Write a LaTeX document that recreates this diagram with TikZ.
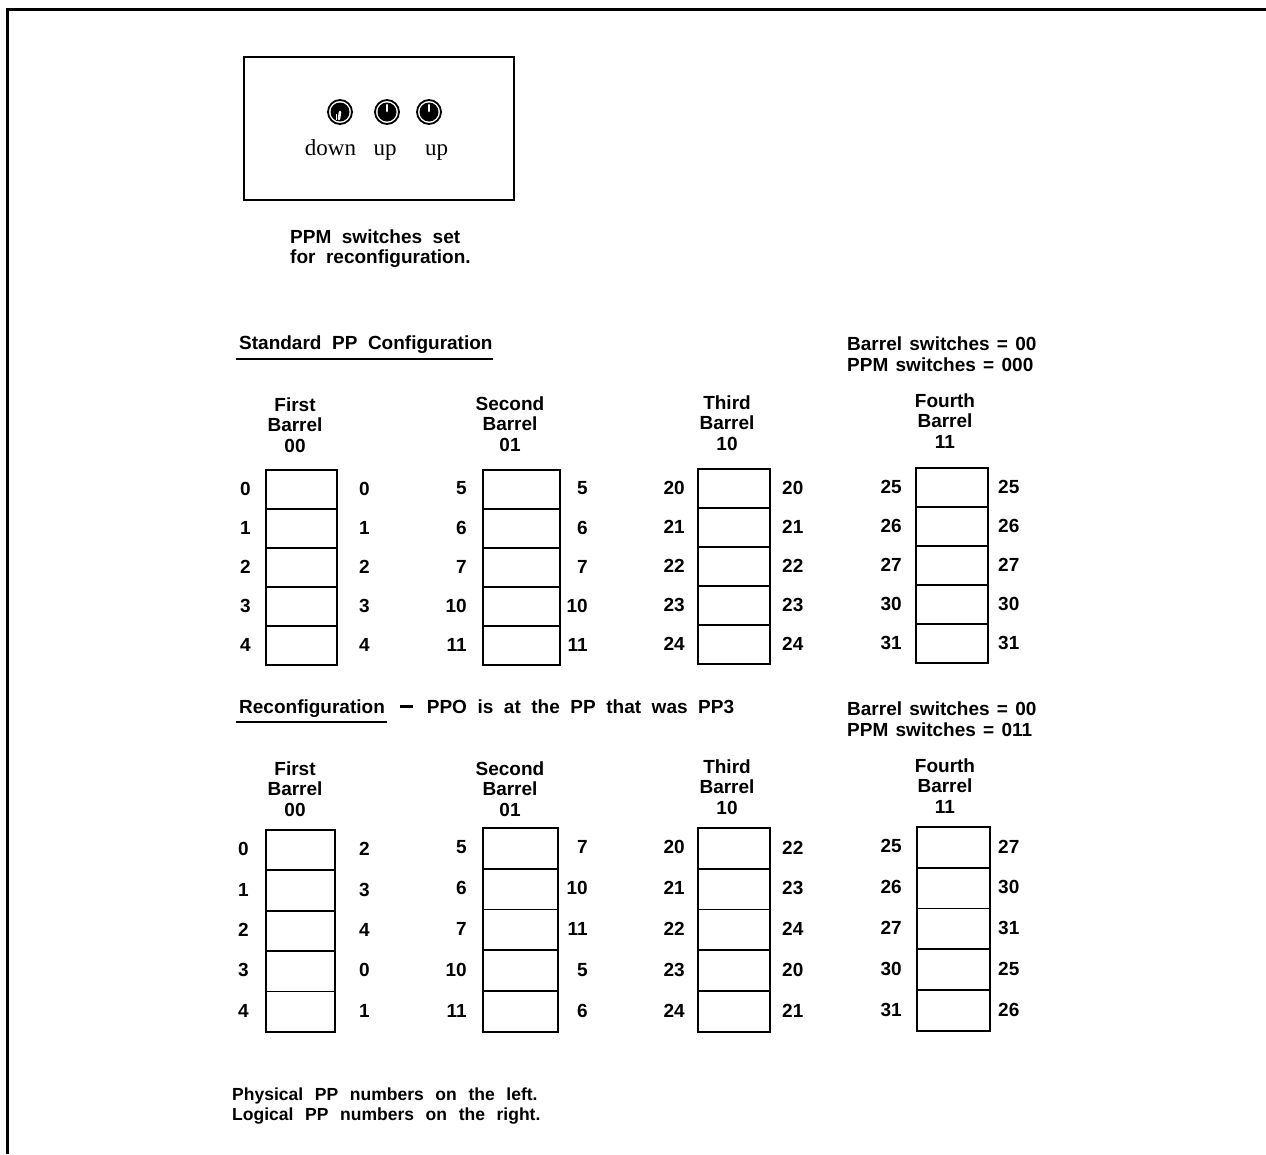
\documentclass[tikz,border=0pt]{standalone}
\usepackage{fontspec}
\setmainfont{Liberation Sans}[WordSpace=2]
\newfontfamily\fnfont{Liberation Sans}[WordSpace=2.4]
\newfontfamily\twfont{Liberation Serif}
\newcommand\wsp{\hspace{7.3pt}}
\begin{document}
\begin{tikzpicture}[x=1pt,y=-1pt,
  txt/.style={font=\fontsize{19}{20.5}\selectfont\bfseries, inner sep=0pt},
  bstxt/.style={txt, anchor=base west},
  fntxt/.style={font=\fontsize{17.5}{20}\selectfont\fnfont\bfseries, inner sep=0pt, anchor=base west},
  hdr/.style={txt, align=center},
  num/.style={txt},
  cell/.style={draw, line width=1.8pt, inner sep=0pt, anchor=north west},
  rule/.style={line width=2.2pt},
  frameline/.style={line width=3pt},
  tw/.style={font=\fontsize{23}{25}\selectfont\twfont, inner sep=0pt, anchor=base},
  swring/.style={circle, draw, line width=1.8pt, minimum size=24pt, inner sep=0pt},
]
\useasboundingbox (0,0) rectangle (1266,1154);
\newcommand\mkbarrel[9]{%
  \foreach \l [count=\i from 0] in {#8} {
    \node[cell, minimum width=\bw pt, minimum height=#4 pt] (#1c\i) at (#2,{#3+\i*#4}) {};
    \node[num, anchor=east] (#1l\i) at (#5,{#3+(\i+0.5)*#4}) {\l};
  }
  \foreach \r [count=\i from 0] in {#9} {
    \node[num, anchor=#7] (#1r\i) at (#6,{#3+(\i+0.5)*#4}) {\r};
  }
}
% frame
\coordinate (fTL) at (7,9);
\coordinate (fTR) at (1266,9);
\coordinate (fBL) at (7,1154);
\draw[frameline] (fTR) -- (fTL) -- (fBL);

% switch panel
\node[draw, line width=1.8pt, minimum width=270pt, minimum height=143pt, anchor=north west, inner sep=0pt] (swbox) at (243,56) {};
\node[swring] (sw1) at (340,112) {};
\node[swring] (sw2) at (387,112) {};
\node[swring] (sw3) at (429,112) {};
\foreach \s in {sw1,sw2,sw3} { \fill (\s.center) circle (9.5pt); }
\draw[white, line width=2.6pt, line cap=round] (sw1.center) -- ++(-1,7);
\draw[white, line width=1pt] (sw1.center) ++(-4,2) -- ++(0,6);
\draw[white, line width=2.6pt, line cap=round] (sw2.center) ++(0,-1) -- ++(0,-6);
\draw[white, line width=2.6pt, line cap=round] (sw3.center) ++(0,-1) -- ++(0,-6);
\node[tw] (down) at (330.5,155) {down};
\node[tw] (up1) at (385,155) {up};
\node[tw] (up2) at (436.5,155) {up};

\node[txt, anchor=base west] (ppm1) at (290,243) {PPM switches set};
\node[txt, anchor=base west] (ppm2) at (290,263) {for reconfiguration.};

% standard configuration
\node[txt, anchor=base west] (std) at (239,349) {Standard PP Configuration};
\draw[rule] (236,359) coordinate (u1a) -- (493,359) coordinate (u1b);
\node[bstxt] (bs1) at (847,350) {Barrel\wsp switches\wsp =\wsp 00};
\node[bstxt] (ps1) at (847,371) {PPM\wsp switches\wsp =\wsp 000};

\node[hdr] (h1) at (295,425) {First\\Barrel\\00};
\node[hdr] (h2) at (510,424) {Second\\Barrel\\01};
\node[hdr] (h3) at (727,423) {Third\\Barrel\\10};
\node[hdr] (h4) at (945,421) {Fourth\\Barrel\\11};

\def\bw{71}
\mkbarrel{ta}{265}{469}{39}{251}{359}{west}{0,1,2,3,4}{0,1,2,3,4}
\def\bw{77}
\mkbarrel{tb}{482}{469}{39}{467}{588}{east}{5,6,7,10,11}{5,6,7,10,11}
\def\bw{72}
\mkbarrel{tc}{697}{468}{39}{685}{782}{west}{20,21,22,23,24}{20,21,22,23,24}
\def\bw{72}
\mkbarrel{td}{915}{467}{39}{902}{998}{west}{25,26,27,30,31}{25,26,27,30,31}

% reconfiguration
\node[txt, anchor=base west] (rec) at (239,713) {Reconfiguration\hspace{15pt}\rule[5.5pt]{13pt}{2.2pt}\hspace{14pt}PPO is at the PP that was PP3};
\draw[rule] (236,722) coordinate (u2a) -- (387,722) coordinate (u2b);
\node[bstxt] (bs2) at (847,715) {Barrel\wsp switches\wsp =\wsp 00};
\node[bstxt] (ps2) at (847,736) {PPM\wsp switches\wsp =\wsp 011};

\node[hdr] (g1) at (295,789) {First\\Barrel\\00};
\node[hdr] (g2) at (510,789) {Second\\Barrel\\01};
\node[hdr] (g3) at (727,787) {Third\\Barrel\\10};
\node[hdr] (g4) at (945,786) {Fourth\\Barrel\\11};

\def\bw{69}
\mkbarrel{ba}{265}{829}{40.4}{249}{359}{west}{0,1,2,3,4}{2,3,4,0,1}
\def\bw{75}
\mkbarrel{bb}{482}{827}{40.8}{467}{588}{east}{5,6,7,10,11}{7,10,11,5,6}
\def\bw{72}
\mkbarrel{bc}{697}{827}{40.8}{685}{782}{west}{20,21,22,23,24}{22,23,24,20,21}
\def\bw{73}
\mkbarrel{bd}{916}{826}{40.8}{902}{998}{west}{25,26,27,30,31}{27,30,31,25,26}

\node[fntxt] (f1) at (232,1100) {Physical PP numbers on the left.};
\node[fntxt] (f2) at (232,1120) {Logical PP numbers on the right.};
\end{tikzpicture}
\end{document}
